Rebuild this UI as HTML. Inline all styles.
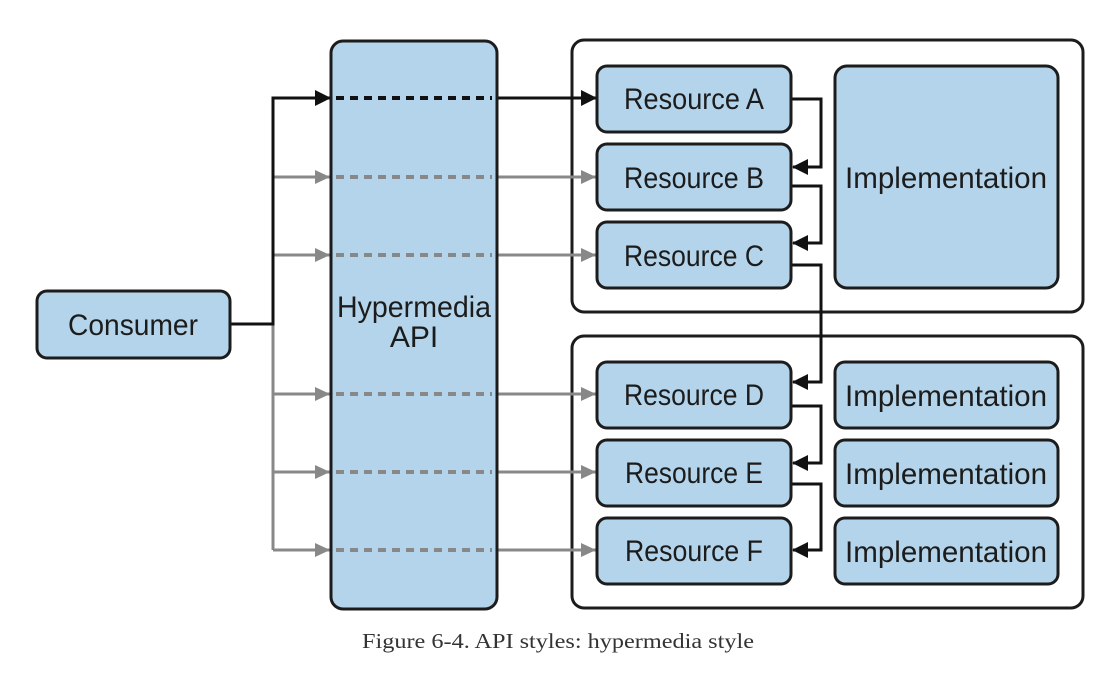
<!DOCTYPE html>
<html><head><meta charset="utf-8"><style>
html,body{margin:0;padding:0;background:#fff;}
svg{display:block;}
.b{fill:#b3d4ea;stroke:#1c1c1c;stroke-width:3;}
.w{fill:#fff;stroke:#1c1c1c;stroke-width:3;}
.t{font-family:"Liberation Sans",sans-serif;font-size:30px;fill:#1c1c1c;}
</style></head><body>
<svg width="1116" height="679" viewBox="0 0 1116 679" xmlns="http://www.w3.org/2000/svg">
<defs>
<marker id="ak" markerWidth="16" markerHeight="16" refX="15" refY="8" orient="auto" markerUnits="userSpaceOnUse"><path d="M0,0 L16,8 L0,16z" fill="#111"/></marker>
<marker id="ag" markerWidth="16" markerHeight="16" refX="15" refY="8" orient="auto" markerUnits="userSpaceOnUse"><path d="M0,1 L15,8 L0,15z" fill="#888"/></marker>
</defs>
<rect class="w" x="572" y="40" width="511" height="272" rx="12"/>
<rect class="w" x="572" y="336" width="511" height="272" rx="12"/>
<g stroke="#888" stroke-width="3" fill="none">
<path d="M273 177 V550"/>
<path d="M273 177 H330" marker-end="url(#ag)"/>
<path d="M273 255 H330" marker-end="url(#ag)"/>
<path d="M273 394 H330" marker-end="url(#ag)"/>
<path d="M273 472 H330" marker-end="url(#ag)"/>
<path d="M273 550 H330" marker-end="url(#ag)"/>
<path d="M497 177 H596" marker-end="url(#ag)"/>
<path d="M497 255 H596" marker-end="url(#ag)"/>
<path d="M497 394 H596" marker-end="url(#ag)"/>
<path d="M497 472 H596" marker-end="url(#ag)"/>
<path d="M497 550 H596" marker-end="url(#ag)"/>
</g>
<g stroke="#111" stroke-width="3" fill="none">
<path d="M230 324 H273 V98 H330" marker-end="url(#ak)"/>
<path d="M497 98 H596" marker-end="url(#ak)"/>
</g>
<rect class="b" x="331" y="41" width="166" height="568" rx="12"/>
<g stroke-width="4" stroke-dasharray="8 6">
<path d="M336 98 H492" stroke="#111"/>
<path d="M336 177 H492" stroke="#888"/>
<path d="M336 255 H492" stroke="#888"/>
<path d="M336 394 H492" stroke="#888"/>
<path d="M336 472 H492" stroke="#888"/>
<path d="M336 550 H492" stroke="#888"/>
</g>
<text class="t" x="414" y="317" text-anchor="middle" textLength="154" lengthAdjust="spacingAndGlyphs">Hypermedia</text>
<text class="t" x="414" y="347" text-anchor="middle">API</text>
<rect class="b" x="37" y="291" width="193" height="67" rx="10"/>
<text class="t" x="133" y="335" text-anchor="middle" textLength="130" lengthAdjust="spacingAndGlyphs">Consumer</text>
<g stroke="#111" stroke-width="3" fill="none">
<path d="M791 99 H821 V167 H793" marker-end="url(#ak)"/>
<path d="M791 186 H821 V243 H793" marker-end="url(#ak)"/>
<path d="M791 265 H821 V382 H793" marker-end="url(#ak)"/>
<path d="M791 406 H821 V463 H793" marker-end="url(#ak)"/>
<path d="M791 484 H821 V550 H793" marker-end="url(#ak)"/>
</g>
<g>
<rect class="b" x="597" y="66" width="194" height="66" rx="10"/>
<rect class="b" x="597" y="144" width="194" height="66" rx="10"/>
<rect class="b" x="597" y="222" width="194" height="66" rx="10"/>
<rect class="b" x="597" y="362" width="194" height="66" rx="10"/>
<rect class="b" x="597" y="440" width="194" height="66" rx="10"/>
<rect class="b" x="597" y="518" width="194" height="66" rx="10"/>
<rect class="b" x="835" y="66" width="223" height="222" rx="12"/>
<rect class="b" x="835" y="362" width="223" height="66" rx="10"/>
<rect class="b" x="835" y="440" width="223" height="66" rx="10"/>
<rect class="b" x="835" y="518" width="223" height="66" rx="10"/>
</g>
<g class="t" text-anchor="middle">
<text x="694" y="109" textLength="140" lengthAdjust="spacingAndGlyphs">Resource A</text>
<text x="694" y="188" textLength="140" lengthAdjust="spacingAndGlyphs">Resource B</text>
<text x="694" y="266" textLength="140" lengthAdjust="spacingAndGlyphs">Resource C</text>
<text x="694" y="405" textLength="140" lengthAdjust="spacingAndGlyphs">Resource D</text>
<text x="694" y="483" textLength="138" lengthAdjust="spacingAndGlyphs">Resource E</text>
<text x="694" y="561" textLength="138" lengthAdjust="spacingAndGlyphs">Resource F</text>
<text x="946" y="188" textLength="202" lengthAdjust="spacingAndGlyphs">Implementation</text>
<text x="946" y="406" textLength="202" lengthAdjust="spacingAndGlyphs">Implementation</text>
<text x="946" y="484" textLength="202" lengthAdjust="spacingAndGlyphs">Implementation</text>
<text x="946" y="562" textLength="202" lengthAdjust="spacingAndGlyphs">Implementation</text>
</g>
<text x="558" y="648" text-anchor="middle" font-family="Liberation Serif,serif" font-size="21" fill="#333" textLength="392" lengthAdjust="spacingAndGlyphs">Figure 6-4. API styles: hypermedia style</text>
</svg>
</body></html>
